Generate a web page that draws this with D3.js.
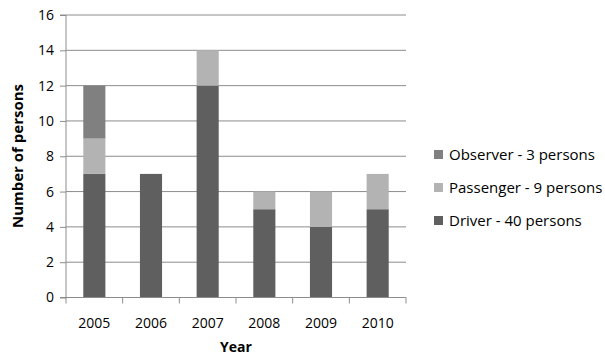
<!DOCTYPE html>
<html>
<head>
<meta charset="utf-8">
<script src="https://cdn.jsdelivr.net/npm/d3@7"></script>
<style>
  body { margin: 0; background: #fff; }
  text { font-family: "Open Sans", "Liberation Sans", sans-serif; fill: #000; }
</style>
</head>
<body>
<svg id="chart" width="605" height="358"></svg>
<script>
const years = ["2005", "2006", "2007", "2008", "2009", "2010"];
const driver = [7, 7, 12, 5, 4, 5];
const passenger = [2, 0, 2, 1, 2, 2];
const observer = [3, 0, 0, 0, 0, 0];
const seriesNames = ["Driver - 40 persons", "Passenger - 9 persons", "Observer - 3 persons"];
const seriesColors = ["#5f5f5f", "#b3b3b3", "#808080"];
const yTicks = [0, 2, 4, 6, 8, 10, 12, 14, 16];

const rows = years.map((y, i) => ({ year: y, d: driver[i], p: passenger[i], o: observer[i] }));
const stack = d3.stack().keys(["d", "p", "o"])(rows);

const svg = d3.select("#chart");
const m = { left: 66, right: 406, top: 15, bottom: 297.5 };

const x = d3.scaleBand().domain(years).range([m.left, m.right]).paddingInner(0.61).paddingOuter(0.305);
const y = d3.scaleLinear().domain([0, 16]).range([m.bottom, m.top]);

// horizontal gridlines
svg.append("g").selectAll("line").data(yTicks.filter(t => t > 0)).join("line")
  .attr("x1", m.left).attr("x2", m.right)
  .attr("y1", d => y(d)).attr("y2", d => y(d))
  .attr("stroke", "#8c8c8c").attr("stroke-width", 1);

// stacked bars
svg.append("g").selectAll("g").data(stack).join("g")
  .attr("fill", (d, i) => seriesColors[i])
  .selectAll("rect").data(d => d.filter(s => s[1] > s[0])).join("rect")
  .attr("x", d => x(d.data.year))
  .attr("width", x.bandwidth())
  .attr("y", d => y(d[1]))
  .attr("height", d => y(d[0]) - y(d[1]));

// y axis
const yAxis = svg.append("g").attr("transform", `translate(${m.left},0)`)
  .call(d3.axisLeft(y).tickValues(yTicks).tickSize(6).tickPadding(6));
yAxis.select(".domain").attr("stroke", "#8c8c8c").attr("d", `M-6,${m.top}H0V${m.bottom}H-6`);
yAxis.selectAll(".tick line").attr("stroke", "#8c8c8c");
yAxis.selectAll(".tick text").style("font-size", "14px").attr("font-family", null);

// x axis
const xAxis = svg.append("g").attr("transform", `translate(0,${m.bottom})`);
xAxis.append("line").attr("x1", m.left - 6).attr("x2", m.right).attr("stroke", "#8c8c8c");
xAxis.selectAll("line.t").data(d3.range(years.length + 1)).join("line")
  .attr("class", "t")
  .attr("x1", i => m.left + i * (m.right - m.left) / years.length)
  .attr("x2", i => m.left + i * (m.right - m.left) / years.length)
  .attr("y1", 0).attr("y2", 6).attr("stroke", "#8c8c8c");
xAxis.selectAll("text").data(years).join("text")
  .attr("x", d => x(d) + x.bandwidth() / 2)
  .attr("y", 30)
  .attr("text-anchor", "middle")
  .style("font-size", "14px")
  .text(d => d);

// axis titles
svg.append("text").attr("x", (m.left + m.right) / 2).attr("y", 352)
  .attr("text-anchor", "middle").style("font-size", "14px").style("font-weight", "bold").text("Year");
svg.append("text").attr("transform", "translate(22.5,156) rotate(-90)")
  .attr("text-anchor", "middle").style("font-size", "15px").style("font-weight", "bold").text("Number of persons");

// legend (top to bottom: observer, passenger, driver)
const legendOrder = [2, 1, 0];
const lg = svg.append("g").selectAll("g").data(legendOrder).join("g")
  .attr("transform", (d, i) => `translate(434,${155 + i * 33})`);
lg.append("rect").attr("x", 0).attr("y", -5).attr("width", 9).attr("height", 9)
  .attr("fill", d => seriesColors[d]);
lg.append("text").attr("x", 15).attr("y", 5).style("font-size", "15px").text(d => seriesNames[d]);
</script>
</body>
</html>
